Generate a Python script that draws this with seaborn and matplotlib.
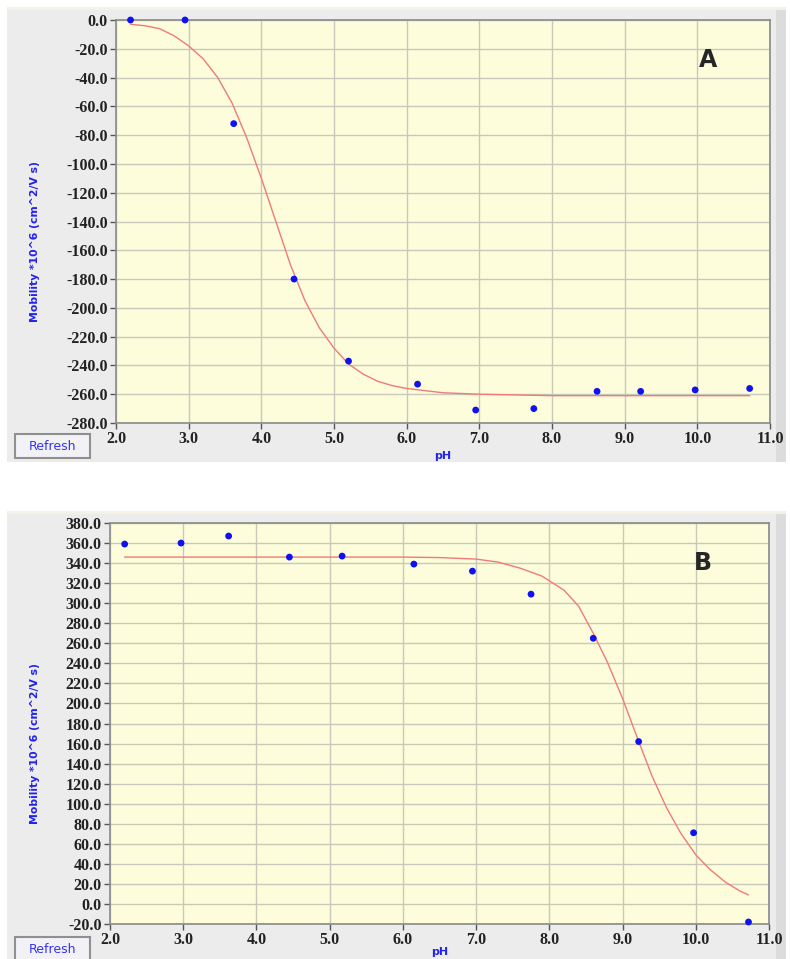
import numpy as np
import pandas as pd
import matplotlib
matplotlib.use("Agg")
import matplotlib.pyplot as plt
from matplotlib.patches import Rectangle
import seaborn as sns

# panel A measured points
ph_a = [2.2, 2.95, 3.62, 4.45, 5.2, 6.15, 6.95, 7.75, 8.62, 9.22, 9.97, 10.72]
mob_a = [0, 0, -72, -180, -237, -253, -271, -270, -258, -258, -257, -256]
# panel A fitted curve
fit_ph_a = [2.2, 2.4, 2.6, 2.8, 3.0, 3.2, 3.4, 3.6, 3.8, 4.0, 4.2, 4.4, 4.6, 4.8,
            5.0, 5.2, 5.4, 5.6, 5.8, 6.0, 6.5, 7.0, 8.0, 10.72]
fit_mob_a = [-3, -4, -6, -11, -18, -27, -40, -58, -82, -110, -140, -170, -195, -214,
             -228, -239, -246, -251, -254, -256, -259, -260, -261, -261]

# panel B measured points
ph_b = [2.2, 2.97, 3.62, 4.45, 5.17, 6.15, 6.95, 7.75, 8.6, 9.22, 9.97, 10.72]
mob_b = [359, 360, 367, 346, 347, 339, 332, 309, 265, 162, 71, -18]
# panel B fitted curve
fit_ph_b = [2.2, 4.0, 6.0, 6.5, 7.0, 7.3, 7.6, 7.9, 8.2, 8.4, 8.6, 8.8, 9.0, 9.2,
            9.4, 9.6, 9.8, 10.0, 10.2, 10.4, 10.6, 10.72]
fit_mob_b = [346, 346, 346, 345.5, 344, 341, 335, 327, 313, 297, 270, 240, 205, 166,
             128, 96, 70, 49, 34, 22, 13, 9]

x_ticks = np.arange(2.0, 11.01, 1.0)
y_ticks_a = np.arange(-280, 0.1, 20)
y_ticks_b = np.arange(-20, 380.1, 20)

sns.set_style("white")
plt.rcParams['font.family'] = ['Liberation Serif', 'DejaVu Sans']

fig = plt.figure(figsize=(7.9, 9.59), dpi=100)
W, H = 790.0, 959.0

def px(x0, y0, x1, y1):
    # pixel box -> figure fraction [left, bottom, width, height]
    return [x0 / W, 1 - y1 / H, (x1 - x0) / W, (y1 - y0) / H]

def window(y0, y1):
    b = px(7, y0, 786, y1)
    fig.patches.append(Rectangle((b[0], b[1]), b[2], b[3], transform=fig.transFigure,
                                 facecolor="#ececec", edgecolor="none", zorder=-2))
    s = px(776, y0, 786, y1)
    fig.patches.append(Rectangle((s[0], s[1]), s[2], s[3], transform=fig.transFigure,
                                 facecolor="#dcdcdc", edgecolor="none", zorder=-1))
    t = px(7, y0 - 3, 786, y0)
    fig.patches.append(Rectangle((t[0], t[1]), t[2], t[3], transform=fig.transFigure,
                                 facecolor="#f4f2e4", edgecolor="none", zorder=-1))

def button(y0, y1):
    b = px(15, y0, 90, y1)
    fig.patches.append(Rectangle((b[0], b[1]), b[2], b[3], transform=fig.transFigure,
                                 facecolor="#f2f2f6", edgecolor="#909090", lw=1.5, zorder=2))
    fig.text(b[0] + b[2] / 2, b[1] + b[3] / 2, "Refresh", ha="center", va="center",
             color="#3333ee", fontsize=9, family=["DejaVu Sans"], zorder=3)

window(10, 462)
window(514, 959)
button(434, 458)
button(937, 962)

def panel(rect, ph, mob, fph, fmob, yticks, ylim, letter, lpos, xlab_y):
    ax = fig.add_axes(rect)
    ax.set_facecolor("#fdfddc")
    sns.lineplot(x=fph, y=fmob, ax=ax, color="#f07a78", lw=1.0, zorder=2)
    sns.scatterplot(x=ph, y=mob, ax=ax, color="#1010f0", s=24, edgecolor="none", zorder=3,
                    clip_on=False)
    ax.set_xlim(2.0, 11.0)
    ax.set_ylim(*ylim)
    ax.set_xticks(x_ticks)
    ax.set_yticks(yticks)
    ax.set_xticklabels([f"{v:.1f}" for v in x_ticks])
    ax.set_yticklabels([f"{v:.1f}" for v in yticks])
    ax.grid(True, color="#c9c9bb", lw=1.0)
    ax.set_axisbelow(True)
    for s in ax.spines.values():
        s.set_color("#8a8a8a")
        s.set_linewidth(1.2)
    ax.tick_params(axis="both", length=4, width=1, color="#555555", labelsize=11.5,
                   labelcolor="#222222", direction="out", left=True, bottom=True, pad=2)
    for lab in ax.get_xticklabels() + ax.get_yticklabels():
        lab.set_fontweight("bold")
    ax.set_xlabel("pH", color="#2222ee", fontsize=8, fontweight="bold",
                  family=["DejaVu Sans"])
    ax.xaxis.set_label_coords(0.5, xlab_y)
    ax.set_ylabel("Mobility *10^6 (cm^2/V s)", color="#2222ee", fontsize=7.8,
                  fontweight="bold", family=["DejaVu Sans"])
    ax.yaxis.set_label_coords(-(rect[0] * W - 40) / (rect[2] * W), 0.45)
    ax.text(lpos[0], lpos[1], letter, transform=ax.transAxes, fontsize=17,
            fontweight="bold", family=["DejaVu Sans"], ha="center", va="center")
    return ax

panel(px(116, 20, 770, 423), ph_a, mob_a, fit_ph_a, fit_mob_a, y_ticks_a, (-280, 0), "A",
      (0.905, 0.9), -0.07)
panel(px(110, 523, 769, 924), ph_b, mob_b, fit_ph_b, fit_mob_b, y_ticks_b, (-20, 380), "B",
      (0.9, 0.9), -0.058)

fig.savefig("out.png", dpi=100)
